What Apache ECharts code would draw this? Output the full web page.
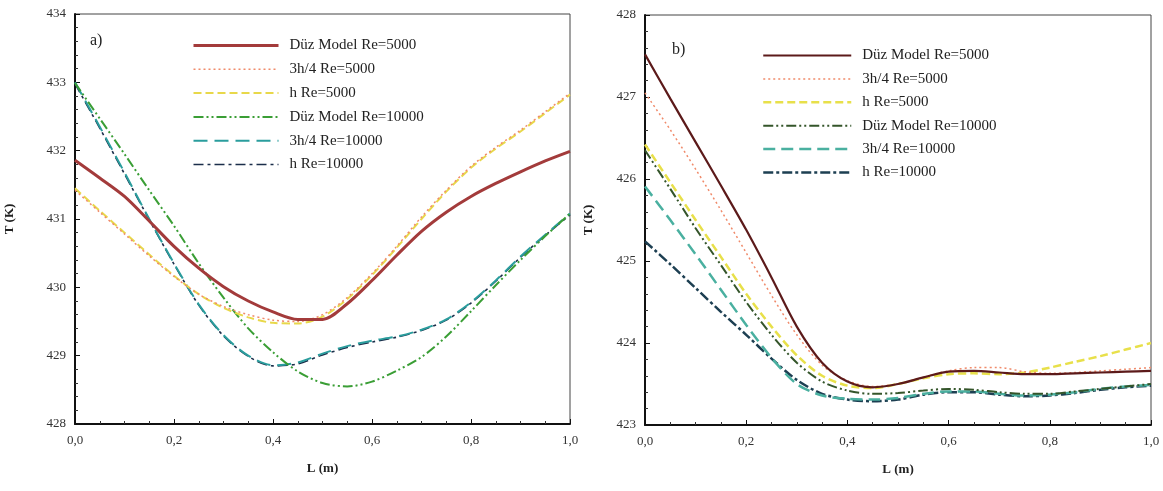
<!DOCTYPE html>
<html><head><meta charset="utf-8">
<script src="https://cdn.jsdelivr.net/npm/echarts@6/dist/echarts.min.js"></script>
<style>html,body{margin:0;padding:0;background:#fff}#c{width:1163px;height:491px}</style>
</head><body><div id="c"></div><script>
// shared x positions (m)
const L = [0,0.05,0.1,0.15,0.2,0.25,0.3,0.35,0.4,0.45,0.5,0.55,0.6,0.65,0.7,0.75,0.8,0.85,0.9,0.95,1.0];
const names = ["Düz Model Re=5000","3h/4 Re=5000","h Re=5000","Düz Model Re=10000","3h/4 Re=10000","h Re=10000"];
const xTicks = ["0,0","0,2","0,4","0,6","0,8","1,0"];

// panel a)
const aDuz5000  = [431.86,431.6,431.33,430.97,430.6,430.28,430.01,429.8,429.64,429.53,429.53,429.76,430.1,430.47,430.82,431.1,431.33,431.52,431.69,431.85,431.99];
const a3h4_5000 = [431.42,431.1,430.78,430.46,430.16,429.9,429.72,429.6,429.52,429.5,429.6,429.85,430.2,430.6,431.03,431.42,431.77,432.05,432.3,432.57,432.84];
const aH5000    = [431.45,431.12,430.8,430.48,430.17,429.9,429.7,429.56,429.48,429.47,429.57,429.83,430.18,430.58,431.0,431.4,431.75,432.03,432.28,432.55,432.82];
const aDuz10000 = [432.99,432.47,431.95,431.42,430.9,430.35,429.85,429.4,429.05,428.77,428.6,428.55,428.62,428.78,428.98,429.28,429.65,430.03,430.4,430.75,431.08];
const a3h4_10000= [433.0,432.35,431.68,431.0,430.35,429.75,429.3,429.0,428.86,428.9,429.03,429.14,429.22,429.28,429.38,429.53,429.78,430.1,430.45,430.77,431.08];
const aH10000   = [432.98,432.33,431.66,430.99,430.34,429.74,429.29,428.99,428.85,428.88,429.01,429.12,429.2,429.27,429.37,429.52,429.77,430.09,430.44,430.76,431.06];

// panel b)
const bDuz5000  = [427.52,426.98,426.45,425.92,425.38,424.8,424.2,423.76,423.53,423.46,423.5,423.58,423.65,423.66,423.64,423.62,423.62,423.63,423.64,423.65,423.66];
const b3h4_5000 = [427.05,426.6,426.12,425.62,425.1,424.58,424.1,423.73,423.54,423.47,423.5,423.58,423.66,423.7,423.7,423.65,423.63,423.64,423.66,423.68,423.7];
const bH5000    = [426.42,425.96,425.5,425.05,424.6,424.2,423.85,423.6,423.48,423.45,423.5,423.57,423.62,423.63,423.62,423.64,423.7,423.77,423.84,423.92,424.0];
const bDuz10000 = [426.35,425.88,425.4,424.95,424.5,424.1,423.76,423.53,423.42,423.38,423.39,423.42,423.44,423.43,423.4,423.38,423.38,423.41,423.44,423.47,423.5];
const b3h4_10000= [425.91,425.5,425.08,424.65,424.22,423.82,423.5,423.36,423.32,423.31,423.33,423.38,423.41,423.41,423.38,423.36,423.37,423.4,423.44,423.47,423.49];
const bH10000   = [425.24,424.96,424.67,424.38,424.1,423.81,423.55,423.38,423.31,423.29,423.31,423.37,423.4,423.4,423.37,423.35,423.36,423.39,423.43,423.46,423.48];

const FONT = "'Liberation Serif','Times New Roman',serif";
const pts = arr => L.map((x,i)=>[x, arr[i]]);

const styleA = [
  {color:'#a33b3b', width:3, type:'solid'},
  {color:'#f08a6a', width:1.5, type:[2,3]},
  {color:'#e8d84a', width:2, type:[8,4]},
  {color:'#3a9e35', width:2, type:[10,3,2,3,2,3]},
  {color:'#2a9d9d', width:2, type:[14,7]},
  {color:'#1b2e4a', width:1.6, type:[10,4,3,4]}
];
const styleB = [
  {color:'#5c1a1a', width:2.2, type:'solid'},
  {color:'#f08a6a', width:1.5, type:[2,3]},
  {color:'#e8e04a', width:2.5, type:[8,4]},
  {color:'#34552a', width:2, type:[10,3,2,3,2,3]},
  {color:'#4ab0a0', width:2.5, type:[12,6]},
  {color:'#1d3f52', width:2.5, type:[10,3,3,3]}
];
const dataA = [aDuz5000,a3h4_5000,aH5000,aDuz10000,a3h4_10000,aH10000];
const dataB = [bDuz5000,b3h4_5000,bH5000,bDuz10000,b3h4_10000,bH10000];

const series = [];
names.forEach((n,i)=>{
  series.push({name:'a:'+n, type:'line', xAxisIndex:0, yAxisIndex:0, data:pts(dataA[i]),
    showSymbol:false, symbol:'none', smooth:0.3, lineStyle:styleA[i], itemStyle:{color:styleA[i].color}, z:10-i});
});
names.forEach((n,i)=>{
  series.push({name:'b:'+n, type:'line', xAxisIndex:1, yAxisIndex:1, data:pts(dataB[i]),
    showSymbol:false, symbol:'none', smooth:0.3, lineStyle:styleB[i], itemStyle:{color:styleB[i].color}, z:10-i});
});

function xAx(grid){
  return {type:'value', gridIndex:grid, min:0, max:1, interval:0.2,
    name:'L (m)', nameLocation:'middle', nameGap:38,
    nameTextStyle:{fontFamily:FONT, fontSize:13, fontWeight:'bold', color:'#222'},
    axisLine:{lineStyle:{color:'#111', width:2}},
    axisTick:{inside:true, length:5, lineStyle:{color:'#111'}},
    minorTick:{show:true, splitNumber:4, length:3, lineStyle:{color:'#333'}},
    splitLine:{show:false},
    axisLabel:{fontFamily:FONT, fontSize:13, color:'#333', margin:10,
      formatter:v=>xTicks[Math.round(v/0.2)]}};
}
function yAx(grid,min,max,gap){
  return {type:'value', gridIndex:grid, min:min, max:max, interval:1,
    name:'T (K)', nameLocation:'middle', nameGap:gap, nameRotate:90,
    nameTextStyle:{fontFamily:FONT, fontSize:13, fontWeight:'bold', color:'#222'},
    axisLine:{show:true, lineStyle:{color:'#111', width:2}},
    axisTick:{inside:true, length:5, lineStyle:{color:'#111'}},
    minorTick:{show:true, splitNumber:5, length:3, lineStyle:{color:'#333'}},
    splitLine:{show:false},
    axisLabel:{fontFamily:FONT, fontSize:13, color:'#333', margin:9}};
}
function legend(prefix,left,top,w,gap){
  return {orient:'vertical', left:left, top:top, padding:0, itemWidth:w, itemHeight:14, itemGap:gap,
    data:names.map(n=>prefix+n), selectedMode:false,
    formatter:n=>n.slice(2),
    itemStyle:{opacity:0, borderWidth:0},
    textStyle:{fontFamily:FONT, fontSize:15, color:'#222', lineHeight:14, padding:[0,0,0,6]},
    lineStyle:{width:'inherit', type:'inherit', opacity:1}};
}

const chart = echarts.init(document.getElementById('c'));
chart.setOption({
  animation:false,
  backgroundColor:'#fff',
  grid:[
    {left:75, top:14, width:495, height:410, show:true, borderColor:'#444', borderWidth:1, backgroundColor:'transparent'},
    {left:645, top:15, width:506, height:410, show:true, borderColor:'#444', borderWidth:1, backgroundColor:'transparent'}
  ],
  xAxis:[xAx(0), xAx(1)],
  yAxis:[yAx(0,428,434,59), yAx(1,423,428,50)],
  legend:[legend('a:',192,38,85,8.8), legend('b:',762,48,88,8.4)],
  graphic:[
    {type:'text', left:90, top:33, style:{text:'a)', fontFamily:FONT, fontSize:16, fill:'#222'}},
    {type:'text', left:672, top:42, style:{text:'b)', fontFamily:FONT, fontSize:16, fill:'#222'}}
  ],
  series:series
});
</script></body></html>
